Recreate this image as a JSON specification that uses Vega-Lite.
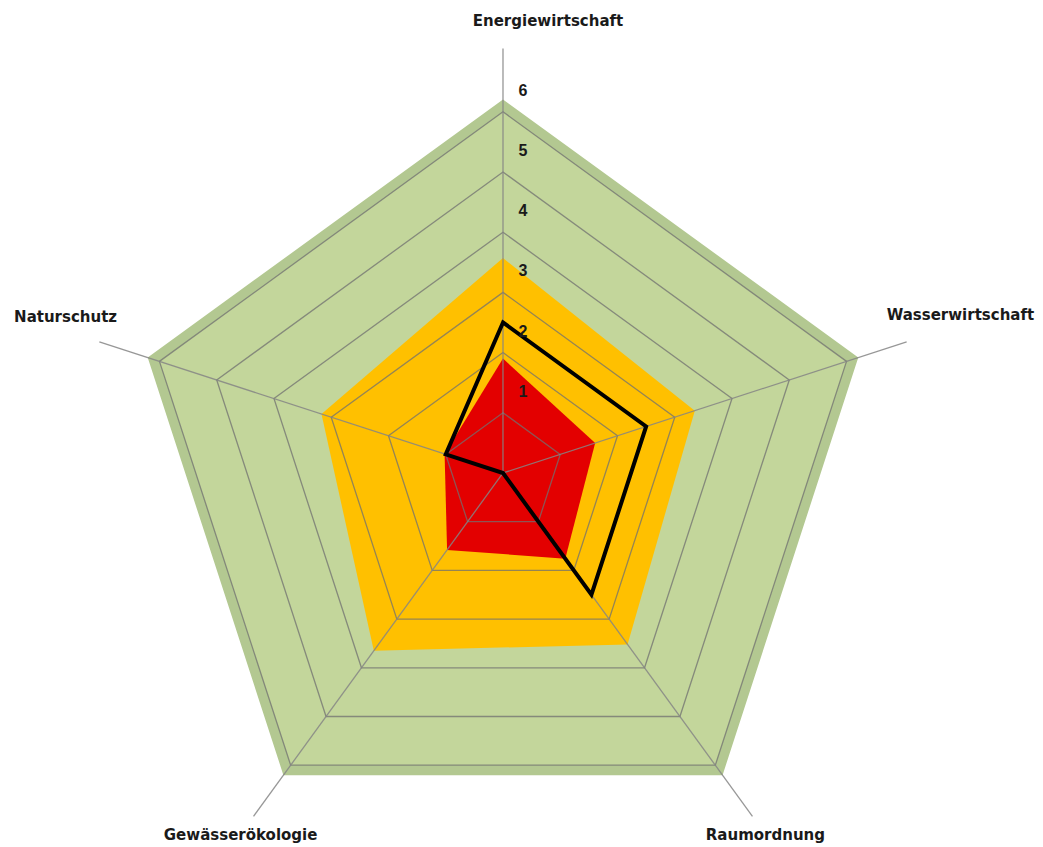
{
  "$schema": "https://vega.github.io/schema/vega-lite/v6.json",
  "width": 1043,
  "height": 847,
  "autosize": "none",
  "padding": 0,
  "background": "white",
  "config": {"view": {"stroke": null}},
  "datasets": {
    "werte": [
      {"reihe": "Gruen", "idx": 0, "achse": "Energiewirtschaft", "wert": 6},
      {"reihe": "Gruen", "idx": 1, "achse": "Wasserwirtschaft", "wert": 6},
      {"reihe": "Gruen", "idx": 2, "achse": "Raumordnung", "wert": 6},
      {"reihe": "Gruen", "idx": 3, "achse": "Gewässerökologie", "wert": 6},
      {"reihe": "Gruen", "idx": 4, "achse": "Naturschutz", "wert": 6},
      {"reihe": "Orange", "idx": 0, "achse": "Energiewirtschaft", "wert": 3.57},
      {"reihe": "Orange", "idx": 1, "achse": "Wasserwirtschaft", "wert": 3.35},
      {"reihe": "Orange", "idx": 2, "achse": "Raumordnung", "wert": 3.52},
      {"reihe": "Orange", "idx": 3, "achse": "Gewässerökologie", "wert": 3.65},
      {"reihe": "Orange", "idx": 4, "achse": "Naturschutz", "wert": 3.17},
      {"reihe": "Rot", "idx": 0, "achse": "Energiewirtschaft", "wert": 1.9},
      {"reihe": "Rot", "idx": 1, "achse": "Wasserwirtschaft", "wert": 1.61},
      {"reihe": "Rot", "idx": 2, "achse": "Raumordnung", "wert": 1.76},
      {"reihe": "Rot", "idx": 3, "achse": "Gewässerökologie", "wert": 1.58},
      {"reihe": "Rot", "idx": 4, "achse": "Naturschutz", "wert": 1.02},
      {"reihe": "Bewertung", "idx": 0, "achse": "Energiewirtschaft", "wert": 2.5},
      {"reihe": "Bewertung", "idx": 1, "achse": "Wasserwirtschaft", "wert": 2.5},
      {"reihe": "Bewertung", "idx": 2, "achse": "Raumordnung", "wert": 2.5},
      {"reihe": "Bewertung", "idx": 3, "achse": "Gewässerökologie", "wert": 0},
      {"reihe": "Bewertung", "idx": 4, "achse": "Naturschutz", "wert": 1.0}
    ],
    "raster": [
      {"ring": 1, "idx": 0}, {"ring": 1, "idx": 1}, {"ring": 1, "idx": 2}, {"ring": 1, "idx": 3}, {"ring": 1, "idx": 4},
      {"ring": 2, "idx": 0}, {"ring": 2, "idx": 1}, {"ring": 2, "idx": 2}, {"ring": 2, "idx": 3}, {"ring": 2, "idx": 4},
      {"ring": 3, "idx": 0}, {"ring": 3, "idx": 1}, {"ring": 3, "idx": 2}, {"ring": 3, "idx": 3}, {"ring": 3, "idx": 4},
      {"ring": 4, "idx": 0}, {"ring": 4, "idx": 1}, {"ring": 4, "idx": 2}, {"ring": 4, "idx": 3}, {"ring": 4, "idx": 4},
      {"ring": 5, "idx": 0}, {"ring": 5, "idx": 1}, {"ring": 5, "idx": 2}, {"ring": 5, "idx": 3}, {"ring": 5, "idx": 4},
      {"ring": 6, "idx": 0}, {"ring": 6, "idx": 1}, {"ring": 6, "idx": 2}, {"ring": 6, "idx": 3}, {"ring": 6, "idx": 4}
    ],
    "achsen": [
      {"idx": 0, "achse": "Energiewirtschaft"},
      {"idx": 1, "achse": "Wasserwirtschaft"},
      {"idx": 2, "achse": "Raumordnung"},
      {"idx": 3, "achse": "Gewässerökologie"},
      {"idx": 4, "achse": "Naturschutz"}
    ],
    "skala": [
      {"stufe": 1}, {"stufe": 2}, {"stufe": 3}, {"stufe": 4}, {"stufe": 5}, {"stufe": 6}
    ]
  },
  "layer": [
    {
      "data": {"name": "werte"},
      "transform": [
        {"filter": "datum.reihe == 'Gruen'"},
        {"calculate": "datum.wert * cos(PI/2 - datum.idx*2*PI/5)", "as": "x"},
        {"calculate": "datum.wert * sin(PI/2 - datum.idx*2*PI/5)", "as": "y"}
      ],
      "mark": {"type": "line", "interpolate": "linear-closed", "stroke": "#b3c891", "strokeWidth": 20, "strokeJoin": "miter", "strokeMiterLimit": 10},
      "encoding": {
        "x": {"field": "x", "type": "quantitative", "scale": {"domain": [-8.355, 8.97], "nice": false, "zero": false}, "axis": null},
        "y": {"field": "y", "type": "quantitative", "scale": {"domain": [-6.213, 7.857], "nice": false, "zero": false}, "axis": null},
        "order": {"field": "idx"}
      }
    },
    {
      "data": {"name": "werte"},
      "transform": [
        {"filter": "datum.reihe != 'Bewertung'"},
        {"calculate": "datum.wert * cos(PI/2 - datum.idx*2*PI/5)", "as": "x"},
        {"calculate": "datum.wert * sin(PI/2 - datum.idx*2*PI/5)", "as": "y"},
        {"calculate": "datum.reihe == 'Gruen' ? 0 : datum.reihe == 'Orange' ? 1 : 2", "as": "z"}
      ],
      "mark": {"type": "line", "interpolate": "linear-closed", "filled": true, "strokeWidth": 0},
      "encoding": {
        "x": {"field": "x", "type": "quantitative", "scale": {"domain": [-8.355, 8.97], "nice": false, "zero": false}, "axis": null},
        "y": {"field": "y", "type": "quantitative", "scale": {"domain": [-6.213, 7.857], "nice": false, "zero": false}, "axis": null},
        "fill": {"field": "reihe", "type": "nominal", "scale": {"domain": ["Gruen", "Orange", "Rot"], "range": ["#c3d69b", "#ffc000", "#e30000"]}, "legend": null},
        "detail": {"field": "z", "type": "ordinal"},
        "order": {"field": "idx"}
      }
    },
    {
      "data": {"name": "raster"},
      "transform": [
        {"calculate": "datum.ring * cos(PI/2 - datum.idx*2*PI/5)", "as": "x"},
        {"calculate": "datum.ring * sin(PI/2 - datum.idx*2*PI/5)", "as": "y"}
      ],
      "mark": {"type": "line", "interpolate": "linear-closed", "stroke": "#707070", "strokeWidth": 1.3, "opacity": 0.75},
      "encoding": {
        "x": {"field": "x", "type": "quantitative", "scale": {"domain": [-8.355, 8.97], "nice": false, "zero": false}, "axis": null},
        "y": {"field": "y", "type": "quantitative", "scale": {"domain": [-6.213, 7.857], "nice": false, "zero": false}, "axis": null},
        "detail": {"field": "ring", "type": "ordinal"},
        "order": {"field": "idx"}
      }
    },
    {
      "data": {"name": "achsen"},
      "transform": [
        {"calculate": "7.05 * cos(PI/2 - datum.idx*2*PI/5)", "as": "x"},
        {"calculate": "7.05 * sin(PI/2 - datum.idx*2*PI/5)", "as": "y"}
      ],
      "mark": {"type": "rule", "stroke": "#858585", "strokeWidth": 1.3, "opacity": 0.85},
      "encoding": {
        "x": {"field": "x", "type": "quantitative", "scale": {"domain": [-8.355, 8.97], "nice": false, "zero": false}, "axis": null},
        "y": {"field": "y", "type": "quantitative", "scale": {"domain": [-6.213, 7.857], "nice": false, "zero": false}, "axis": null},
        "x2": {"datum": 0},
        "y2": {"datum": 0}
      }
    },
    {
      "data": {"name": "werte"},
      "transform": [
        {"filter": "datum.reihe == 'Bewertung'"},
        {"calculate": "datum.wert * cos(PI/2 - datum.idx*2*PI/5)", "as": "x"},
        {"calculate": "datum.wert * sin(PI/2 - datum.idx*2*PI/5)", "as": "y"}
      ],
      "mark": {"type": "line", "interpolate": "linear-closed", "stroke": "#000000", "strokeWidth": 4, "strokeJoin": "miter"},
      "encoding": {
        "x": {"field": "x", "type": "quantitative", "scale": {"domain": [-8.355, 8.97], "nice": false, "zero": false}, "axis": null},
        "y": {"field": "y", "type": "quantitative", "scale": {"domain": [-6.213, 7.857], "nice": false, "zero": false}, "axis": null},
        "order": {"field": "idx"}
      }
    },
    {
      "data": {"name": "skala"},
      "mark": {"type": "text", "font": "Liberation Sans", "fontWeight": "bold", "fontSize": 16, "color": "#1a1a1a", "dx": 20, "dy": -21, "align": "center", "baseline": "middle"},
      "encoding": {
        "x": {"datum": 0, "type": "quantitative", "scale": {"domain": [-8.355, 8.97], "nice": false, "zero": false}, "axis": null},
        "y": {"field": "stufe", "type": "quantitative", "scale": {"domain": [-6.213, 7.857], "nice": false, "zero": false}, "axis": null},
        "text": {"field": "stufe", "type": "quantitative"}
      }
    },
    {
      "data": {"name": "achsen"},
      "transform": [
        {"filter": "datum.idx == 0"},
        {"calculate": "7.5 * cos(PI/2 - datum.idx*2*PI/5)", "as": "x"},
        {"calculate": "7.5 * sin(PI/2 - datum.idx*2*PI/5)", "as": "y"}
      ],
      "mark": {"type": "text", "font": "DejaVu Sans", "fontWeight": "bold", "fontSize": 15, "color": "#1a1a1a", "align": "center", "baseline": "middle", "dx": 45, "dy": 0},
      "encoding": {
        "x": {"field": "x", "type": "quantitative", "scale": {"domain": [-8.355, 8.97], "nice": false, "zero": false}, "axis": null},
        "y": {"field": "y", "type": "quantitative", "scale": {"domain": [-6.213, 7.857], "nice": false, "zero": false}, "axis": null},
        "text": {"field": "achse"}
      }
    },
    {
      "data": {"name": "achsen"},
      "transform": [
        {"filter": "datum.idx == 1"},
        {"calculate": "7.5 * cos(PI/2 - datum.idx*2*PI/5)", "as": "x"},
        {"calculate": "7.5 * sin(PI/2 - datum.idx*2*PI/5)", "as": "y"}
      ],
      "mark": {"type": "text", "font": "DejaVu Sans", "fontWeight": "bold", "fontSize": 15, "color": "#1a1a1a", "align": "center", "baseline": "middle", "dx": 28, "dy": -18},
      "encoding": {
        "x": {"field": "x", "type": "quantitative", "scale": {"domain": [-8.355, 8.97], "nice": false, "zero": false}, "axis": null},
        "y": {"field": "y", "type": "quantitative", "scale": {"domain": [-6.213, 7.857], "nice": false, "zero": false}, "axis": null},
        "text": {"field": "achse"}
      }
    },
    {
      "data": {"name": "achsen"},
      "transform": [
        {"filter": "datum.idx == 2"},
        {"calculate": "7.5 * cos(PI/2 - datum.idx*2*PI/5)", "as": "x"},
        {"calculate": "7.5 * sin(PI/2 - datum.idx*2*PI/5)", "as": "y"}
      ],
      "mark": {"type": "text", "font": "DejaVu Sans", "fontWeight": "bold", "fontSize": 15, "color": "#1a1a1a", "align": "center", "baseline": "middle", "dx": -3, "dy": -3},
      "encoding": {
        "x": {"field": "x", "type": "quantitative", "scale": {"domain": [-8.355, 8.97], "nice": false, "zero": false}, "axis": null},
        "y": {"field": "y", "type": "quantitative", "scale": {"domain": [-6.213, 7.857], "nice": false, "zero": false}, "axis": null},
        "text": {"field": "achse"}
      }
    },
    {
      "data": {"name": "achsen"},
      "transform": [
        {"filter": "datum.idx == 3"},
        {"calculate": "7.5 * cos(PI/2 - datum.idx*2*PI/5)", "as": "x"},
        {"calculate": "7.5 * sin(PI/2 - datum.idx*2*PI/5)", "as": "y"}
      ],
      "mark": {"type": "text", "font": "DejaVu Sans", "fontWeight": "bold", "fontSize": 15, "color": "#1a1a1a", "align": "center", "baseline": "middle", "dx": 3, "dy": -3},
      "encoding": {
        "x": {"field": "x", "type": "quantitative", "scale": {"domain": [-8.355, 8.97], "nice": false, "zero": false}, "axis": null},
        "y": {"field": "y", "type": "quantitative", "scale": {"domain": [-6.213, 7.857], "nice": false, "zero": false}, "axis": null},
        "text": {"field": "achse"}
      }
    },
    {
      "data": {"name": "achsen"},
      "transform": [
        {"filter": "datum.idx == 4"},
        {"calculate": "7.5 * cos(PI/2 - datum.idx*2*PI/5)", "as": "x"},
        {"calculate": "7.5 * sin(PI/2 - datum.idx*2*PI/5)", "as": "y"}
      ],
      "mark": {"type": "text", "font": "DejaVu Sans", "fontWeight": "bold", "fontSize": 15, "color": "#1a1a1a", "align": "center", "baseline": "middle", "dx": -8, "dy": -16},
      "encoding": {
        "x": {"field": "x", "type": "quantitative", "scale": {"domain": [-8.355, 8.97], "nice": false, "zero": false}, "axis": null},
        "y": {"field": "y", "type": "quantitative", "scale": {"domain": [-6.213, 7.857], "nice": false, "zero": false}, "axis": null},
        "text": {"field": "achse"}
      }
    }
  ]
}
